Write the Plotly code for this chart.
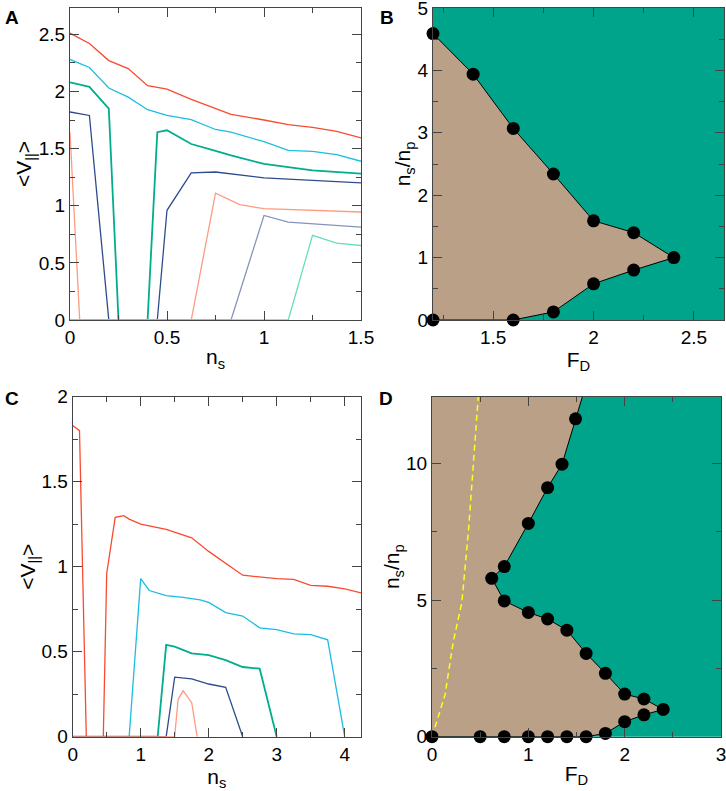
import plotly.graph_objects as go
from plotly.subplots import make_subplots

# ---------------- data ----------------
# panel A: <V||> vs n_s, seven drive values
a_x = [0, 0.1, 0.2, 0.3, 0.4, 0.5, 0.625, 0.75, 0.83, 1.0, 1.125, 1.25, 1.375, 1.5]
a_red = [2.51, 2.42, 2.27, 2.2, 2.05, 2.02, 1.93, 1.85, 1.8, 1.75, 1.71, 1.685, 1.65, 1.594]
a_cyan = [2.28, 2.21, 2.03, 1.95, 1.84, 1.79, 1.754, 1.667, 1.643, 1.56, 1.485, 1.475, 1.447, 1.389]
a_green_x = [0, 0.1, 0.2, 0.25, 0.4, 0.45, 0.5, 0.625, 0.75, 0.83, 1.0, 1.25, 1.5]
a_green = [2.08, 2.04, 1.85, 0, 0, 1.643, 1.66, 1.54, 1.48, 1.44, 1.366, 1.31, 1.28]
a_blue_x = [0, 0.1, 0.2, 0.45, 0.5, 0.625, 0.75, 1.0, 1.5]
a_blue = [1.82, 1.79, 0, 0, 0.96, 1.287, 1.295, 1.243, 1.199]
a_salmon_x = [0, 0.05, 0.625, 0.75, 0.875, 1.0, 1.5]
a_salmon = [1.64, 0, 0, 1.11, 1.009, 0.974, 0.945]
a_slate_x = [0, 0.83, 1.0, 1.125, 1.5]
a_slate = [0, 0, 0.915, 0.856, 0.813]
a_aqua_x = [0, 1.125, 1.25, 1.375, 1.5]
a_aqua = [0, 0, 0.74, 0.672, 0.652]

# panel C: <V||> vs n_s, five drive values
c_red_x = [0, 0.1, 0.2, 0.45, 0.5, 0.625, 0.75, 0.83, 1.0, 1.375, 1.75, 2.0, 2.5, 3.0, 3.25,
           3.5, 3.75, 4.0, 4.25]
c_red = [1.83, 1.8, 0, 0, 0.96, 1.29, 1.3, 1.28, 1.25, 1.22, 1.17, 1.09, 0.95, 0.93, 0.925,
         0.89, 0.885, 0.87, 0.845]
c_cyan_x = [0, 0.83, 1.0, 1.125, 1.375, 1.625, 1.875, 2.0, 2.25, 2.5, 2.75, 3.0, 3.25, 3.5,
            3.75, 4.0]
c_cyan = [0, 0, 0.93, 0.86, 0.83, 0.82, 0.805, 0.79, 0.73, 0.71, 0.64, 0.63, 0.605, 0.6,
          0.57, 0]
c_green_x = [0, 1.25, 1.375, 1.5, 1.75, 2.0, 2.25, 2.5, 2.75, 3.0]
c_green = [0, 0, 0.54, 0.53, 0.49, 0.48, 0.45, 0.41, 0.4, 0]
c_blue_x = [0, 1.375, 1.5, 1.75, 2.0, 2.25, 2.5]
c_blue = [0, 0, 0.35, 0.34, 0.31, 0.29, 0]
c_salmon_x = [0, 1.5, 1.55, 1.625, 1.75, 1.83]
c_salmon = [0, 0, 0.22, 0.27, 0.2, 0]

# panel B: phase boundary n_s/n_p vs F_D
b_fd = [1.2, 1.6, 1.8, 2.0, 2.2, 2.4, 2.2, 2.0, 1.8, 1.6, 1.4, 1.2]
b_ns = [0, 0, 0.13, 0.58, 0.8, 1.0, 1.4, 1.59, 2.34, 3.07, 3.94, 4.59]

# panel D: phase boundary over a wider range
d_fd = [0, 0.5, 0.75, 1.0, 1.2, 1.4, 1.6, 1.8, 2.0, 2.2, 2.4, 2.2, 2.0, 1.8, 1.6, 1.4, 1.2,
        1.0, 0.75, 0.62, 0.75, 1.0, 1.2, 1.35, 1.49]
d_ns = [0, 0, 0, 0, 0, 0, 0, 0.12, 0.55, 0.8, 1.0, 1.38, 1.56, 2.32, 3.05, 3.9, 4.31,
        4.55, 4.97, 5.8, 6.23, 7.81, 9.12, 9.98, 11.64]
d_fd_beyond = [1.6]   # boundary keeps going above the top of the frame
d_ns_beyond = [12.9]
# yellow dashed curve in D
d_yel_fd = [0, 0.05, 0.135, 0.22, 0.31, 0.38, 0.43, 0.48]
d_yel_ns = [0, 0.55, 1.53, 3.46, 4.92, 7.6, 10.0, 12.45]

# ---------------- style ----------------
RED = "#F84A30"
CYAN = "#1BBEE0"
GREEN = "#00AD8D"
BLUE = "#2E4C8C"
SALMON = "#FF9B80"
SLATE = "#8494BA"
AQUA = "#6ADDBE"
PHASE_GREEN = "#00A48A"
PHASE_BROWN = "#B9A087"
FONT = "Liberation Sans, Arial, sans-serif"

W, H = 726, 791

fig = make_subplots(rows=2, cols=2)


def line(xs, ys, color, row, col, width=1.3):
    fig.add_trace(go.Scatter(x=xs, y=ys, mode="lines", line=dict(color=color, width=width),
                             showlegend=False, hoverinfo="skip"), row=row, col=col)


# panel A
line(a_x, a_red, RED, 1, 1)
line(a_x, a_cyan, CYAN, 1, 1)
line(a_green_x, a_green, GREEN, 1, 1, 1.8)
line(a_blue_x, a_blue, BLUE, 1, 1)
line(a_salmon_x, a_salmon, SALMON, 1, 1)
line(a_slate_x, a_slate, SLATE, 1, 1)
line(a_aqua_x, a_aqua, AQUA, 1, 1)

# panel C
line(c_red_x, c_red, RED, 2, 1)
line(c_cyan_x, c_cyan, CYAN, 2, 1)
line(c_green_x, c_green, GREEN, 2, 1, 1.8)
line(c_blue_x, c_blue, BLUE, 2, 1)
line(c_salmon_x, c_salmon, SALMON, 2, 1)

# panel B phase diagram
fig.add_trace(go.Scatter(x=b_fd, y=b_ns, mode="lines", fill="toself", fillcolor=PHASE_BROWN,
                         line=dict(color="black", width=1), showlegend=False), row=1, col=2)
fig.add_trace(go.Scatter(x=b_fd, y=b_ns, mode="markers", cliponaxis=False,
                         marker=dict(color="black", size=13), showlegend=False), row=1, col=2)

# panel D phase diagram
D_YMAX = 12.45
poly_x = d_fd + d_fd_beyond + [0]
poly_y = d_ns + d_ns_beyond + [d_ns_beyond[0]]
fig.add_trace(go.Scatter(x=poly_x, y=poly_y, mode="lines", fill="toself", fillcolor=PHASE_BROWN,
                         line=dict(width=0), showlegend=False), row=2, col=2)
fig.add_trace(go.Scatter(x=d_fd + d_fd_beyond, y=d_ns + d_ns_beyond, mode="lines",
                         line=dict(color="black", width=1), showlegend=False), row=2, col=2)
fig.add_trace(go.Scatter(x=d_yel_fd, y=d_yel_ns, mode="lines",
                         line=dict(color="#FFFF1A", width=1.5, dash="6px,4px"),
                         showlegend=False), row=2, col=2)
fig.add_trace(go.Scatter(x=d_fd, y=d_ns, mode="markers", cliponaxis=False,
                         marker=dict(color="black", size=13), showlegend=False), row=2, col=2)

# ---------------- axes ----------------
axis_common = dict(showline=True, linecolor="#444", linewidth=1.2, mirror="ticks",
                   ticks="inside", ticklen=9, tickwidth=1.2, tickcolor="#444",
                   showgrid=False, zeroline=False, automargin=False,
                   layer="above traces", ticklabeloverflow="allow",
                   tickfont=dict(family=FONT, size=19, color="black"))


def minor(d):
    return dict(ticks="inside", ticklen=5, tickwidth=1.2, tickcolor="#444", dtick=d,
                showgrid=False)


def ttl(text, standoff=6):
    return dict(text=text, font=dict(family=FONT, size=21, color="black"), standoff=standoff)


NS = "n<sub>s</sub>"
V = "&lt;V<sub>||</sub>&gt;"
NSNP = "n<sub>s</sub>/n<sub>p</sub>"
FD = "F<sub>D</sub>"

yA = [1 - 320 / H, 1 - 8 / H]
yC = [1 - 736.7 / H, 1 - 396.7 / H]

fig.update_layout(
    xaxis=dict(axis_common, domain=[70 / W, 361 / W], range=[0, 1.5], dtick=0.5,
               minor=minor(0.25), title=ttl(NS, 2)),
    yaxis=dict(axis_common, domain=yA, range=[0, 2.73], dtick=0.5, minor=minor(0.25),
               title=ttl(V, 0)),
    xaxis2=dict(axis_common, domain=[433 / W, 724 / W], range=[1.2, 2.65], tick0=1.5,
                dtick=0.5, minor=minor(0.25), title=ttl(FD, 2)),
    yaxis2=dict(axis_common, domain=yA, range=[0, 5], dtick=1, minor=minor(0.5),
                title=ttl(NSNP, 0)),
    xaxis3=dict(axis_common, domain=[72.7 / W, 361 / W], range=[0, 4.24], dtick=1,
                minor=minor(0.5), title=ttl(NS, 0)),
    yaxis3=dict(axis_common, domain=yC, range=[0, 2], dtick=0.5, minor=minor(0.25),
                title=ttl(V, 0)),
    xaxis4=dict(axis_common, domain=[432 / W, 721 / W], range=[0, 3], dtick=1,
                minor=minor(0.5), title=ttl(FD, 2)),
    yaxis4=dict(axis_common, domain=yC, range=[0, D_YMAX], dtick=5, minor=minor(2.5),
                title=ttl(NSNP, 0)),
)

fig.update_layout(plot_bgcolor="white")
# phase diagram backgrounds are green
fig.add_shape(type="rect", xref="x2 domain", yref="y2 domain", x0=0, x1=1, y0=0, y1=1,
              fillcolor=PHASE_GREEN, line=dict(width=0), layer="below")
fig.add_shape(type="rect", xref="x4 domain", yref="y4 domain", x0=0, x1=1, y0=0, y1=1,
              fillcolor=PHASE_GREEN, line=dict(width=0), layer="below")

# panel letters
for letter, px, py in [("A", 3, 5), ("B", 378, 5), ("C", 3, 386), ("D", 377, 386)]:
    fig.add_annotation(text=f"<b>{letter}</b>", xref="paper", yref="paper",
                       x=px / W, y=1 - py / H, xanchor="left", yanchor="top",
                       showarrow=False, font=dict(family=FONT, size=19, color="black"))

fig.update_layout(width=W, height=H, autosize=False, margin=dict(l=0, r=0, t=0, b=0),
                  paper_bgcolor="white", font=dict(family=FONT, color="black"))

# the page body has a default 8px margin; drop it so the figure sits at the window origin
fig.write_html("out.html", config={"displayModeBar": False},
               post_script="document.body.style.margin='0';")
